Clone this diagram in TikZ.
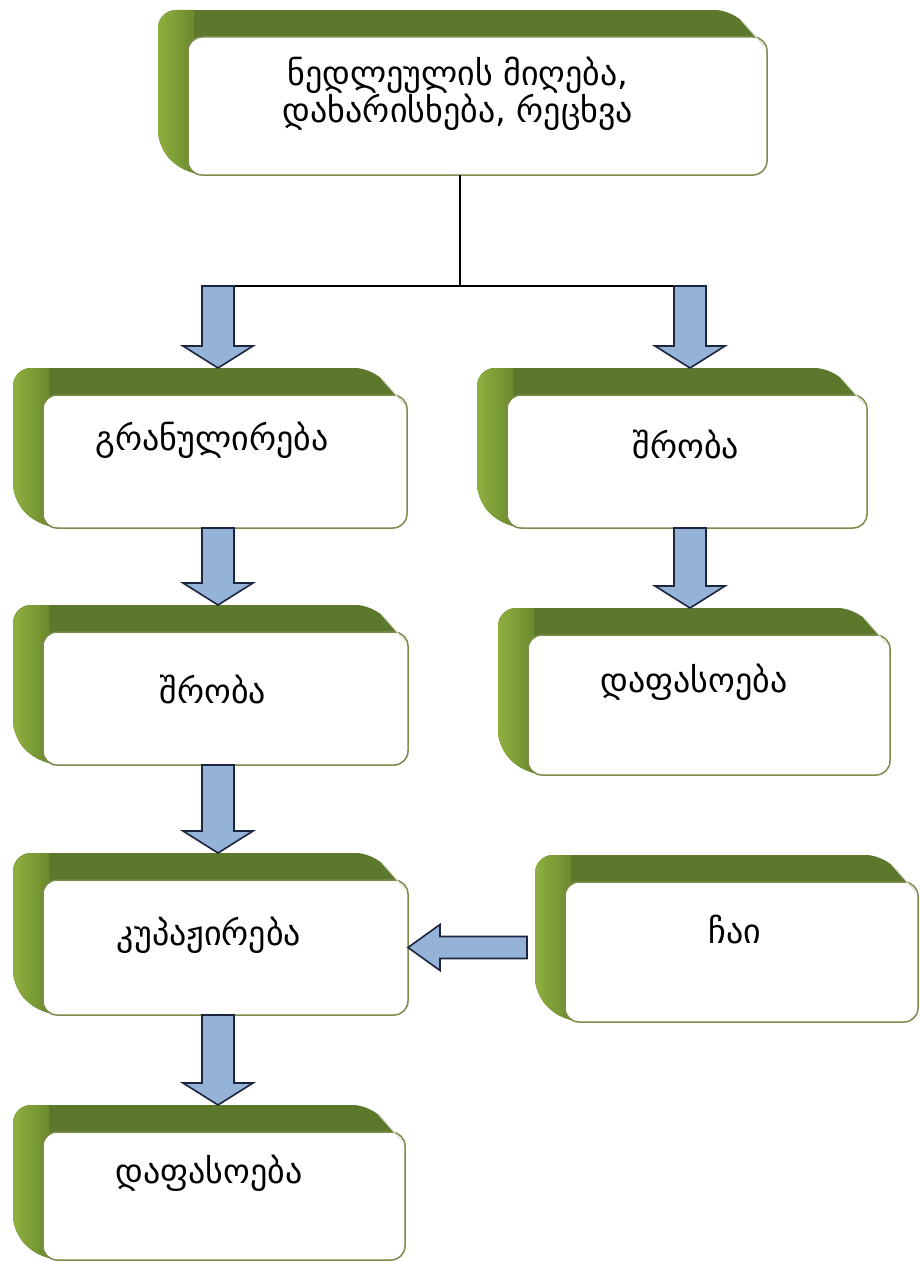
\documentclass[tikz,border=0pt]{standalone}
\usepackage{fontspec}
\newfontfamily\geo{DejaVu Sans}
\usetikzlibrary{calc}
\definecolor{gtop}{HTML}{5C782C}
\definecolor{glight}{HTML}{8FB040}
\definecolor{gmid}{HTML}{6A8A2D}
\definecolor{facebd}{HTML}{7C8B4C}
\definecolor{arrfill}{HTML}{95B3D7}
\definecolor{arrdraw}{HTML}{1B2540}
\tikzset{
 face/.style={draw=facebd, line width=1.5pt, fill=white, rounded corners=14pt, inner sep=0pt, outer sep=0pt},
 lbl/.style={font=\geo\fontsize{34}{37}\selectfont, align=center, inner sep=0pt},
 barrow/.style={fill=arrfill, draw=arrdraw, line width=1.6pt, line join=miter},
 link/.style={draw=black, line width=1.2pt},
 glint/.style={draw=white!75!gtop, line width=1pt}
}
\newcommand{\bevelbox}[5]{%
 \pgfmathsetmacro\bxF{#2+30}%
 \pgfmathsetmacro\byF{#3+27}%
 \pgfmathsetmacro\bxS{#4-34}%
 \pgfmathsetmacro\byS{#3+40}%
 \pgfmathsetmacro\byL{#5-26}%
 \pgfmathsetmacro\bW{#4-\bxF}%
 \pgfmathsetmacro\bH{#5-\byF}%
 \begin{scope}
  \clip[rounded corners=18pt] (#2,\byL) -- (#2,#3) -- (\bxS,#3) -- (#4,\byS) -- (#4,#5) -- (\bxF,#5) -- cycle;
  \fill[gtop] (#2,#3) rectangle (#4,#5);
  \shade[left color=glight, right color=gmid] (#2,#3) rectangle (\bxF+6,#5);
 \end{scope}
 \node[face, minimum width=\bW pt, minimum height=\bH pt, anchor=north west] (#1) at (\bxF,\byF) {};
 \draw[glint] (\bxS+8,#3+10) -- (#4-3,\byS-4);
}
\newcommand{\darr}[3]{%
 \draw[barrow] let \p1=(#1), \p2=(#2) in
  (#3pt-16pt,\y1) -- (#3pt-16pt,\y2+49pt) -- (#3pt-35pt,\y2+49pt) -- (#3pt,\y2+27pt)
  -- (#3pt+35pt,\y2+49pt) -- (#3pt+16pt,\y2+49pt) -- (#3pt+16pt,\y1) -- cycle;
}
\begin{document}
\begin{tikzpicture}[x=1pt,y=-1pt]
\useasboundingbox (0,0) rectangle (920,1263);
\fill[white] (0,0) rectangle (920,1263);

\bevelbox{top}{158}{10}{767}{175}
\bevelbox{b1}{13}{368}{407}{528}
\bevelbox{b2}{13}{605}{408}{765}
\bevelbox{b3}{13}{853}{408}{1015}
\bevelbox{b4}{13}{1105}{405}{1260}
\bevelbox{r1}{477}{368}{867}{528}
\bevelbox{r2}{498}{608}{890}{775}
\bevelbox{r3}{535}{855}{918}{1022}

\node[lbl] (t0) at (458,94) {ნედლეულის მიღება,\\დახარისხება, რეცხვა};
\node[lbl] (t1) at (212,440) {გრანულირება};
\node[lbl] (t2) at (213,690) {შრობა};
\node[lbl] (t3) at (209,935) {კუპაჟირება};
\node[lbl] (t4) at (209,1173) {დაფასოება};
\node[lbl] (t5) at (686,445) {შრობა};
\node[lbl] (t6) at (694,682) {დაფასოება};
\node[lbl] (t7) at (735,930) {ჩაი};

\coordinate (j) at (460,286);
\coordinate (jl) at (202,286);
\coordinate (jr) at (706,286);
\draw[link] (top.south -| j) -- (j);
\draw[link] (jl) -- (jr);

\darr{jl}{b1.north}{218}
\darr{jr}{r1.north}{690}
\darr{b1.south}{b2.north}{218}
\darr{b2.south}{b3.north}{218}
\darr{b3.south}{b4.north}{218}
\darr{r1.south}{r2.north}{690}

\draw[barrow] let \p1=(b3.east), \p2=(r3.west) in
  (\x1,\y1) -- (\x1+32pt,\y1+23pt) -- (\x1+32pt,\y1+11pt) -- (\x2-38pt,\y1+11pt)
  -- (\x2-38pt,\y1-11pt) -- (\x1+32pt,\y1-11pt) -- (\x1+32pt,\y1-23pt) -- cycle;
\end{tikzpicture}
\end{document}
